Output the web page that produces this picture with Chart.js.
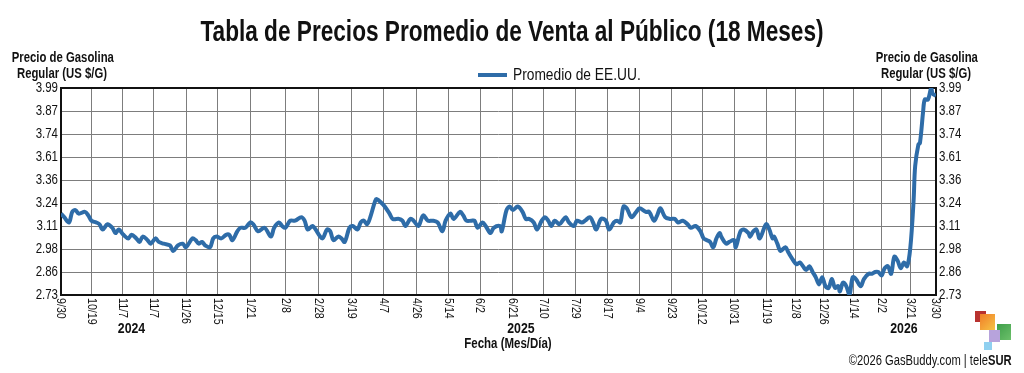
<!DOCTYPE html>
<html>
<head>
<meta charset="utf-8">
<script src="https://cdn.jsdelivr.net/npm/chart.js@4.4.1/dist/chart.umd.min.js"></script>
<style>
  html, body { margin: 0; padding: 0; background: #fff; }
  body { width: 1024px; height: 373px; position: relative; overflow: hidden;
         font-family: "Liberation Sans", Arial, sans-serif; color: #111; }
  #chart { position: absolute; left: 0; top: 0; }
  .abs { position: absolute; white-space: nowrap; }
  #title { left: 0; width: 1024px; top: 15px; text-align: center; font-weight: bold; font-size: 29px; line-height: 32px;
           transform: scaleX(0.78); }
  .axt { width: 124px; text-align: center; font-weight: bold; font-size: 14px; line-height: 16px; top: 49px; transform: scaleX(0.81); }
  #legend { left: 478px; top: 66px; font-size: 16px; line-height: 18px; display: flex; align-items: center; }
  #legend span.sw { display: inline-block; width: 29px; height: 4px; margin-right: 6px; }
  #legend span.tx { display: inline-block; transform: scaleX(0.86); transform-origin: left center; }
  #xtitle { left: 408px; width: 200px; top: 335px; text-align: center; font-weight: bold; font-size: 14px; line-height: 16px; transform: scaleX(0.82); }
  #footer { right: 12px; top: 352px; font-size: 14px; line-height: 16px; transform: scaleX(0.8); transform-origin: right center; }
  .sq { position: absolute; }
</style>
</head>
<body>
<canvas id="chart" width="1024" height="373"></canvas>
<div id="title" class="abs">Tabla de Precios Promedio de Venta al Público (18 Meses)</div>
<div class="abs axt" style="left:0">Precio de Gasolina<br>Regular (US $/G)</div>
<div class="abs axt" style="left:864px">Precio de Gasolina<br>Regular (US $/G)</div>
<div id="legend" class="abs"></div>
<div id="xtitle" class="abs">Fecha (Mes/Día)</div>
<div id="footer" class="abs">©2026 GasBuddy.com | tele<b>SUR</b></div>
<div class="sq" style="left:975px;top:311px;width:11px;height:11px;background:#b8322f"></div>
<div class="sq" style="left:980px;top:314px;width:15px;height:16px;background:linear-gradient(135deg,#f07d28,#f6c445)"></div>
<div class="sq" style="left:997px;top:324px;width:14px;height:16px;background:linear-gradient(135deg,#3f9e4a,#6cc06a)"></div>
<div class="sq" style="left:989px;top:330px;width:11px;height:12px;background:#b7a3dc"></div>
<div class="sq" style="left:984px;top:342px;width:8px;height:8px;background:#8fd0f0"></div>

<script>
const SERIES_NAME = "Promedio de EE.UU.";
const LINE_COLOR = "#2e6ca8";
const FONT = '"Liberation Sans", Arial, sans-serif';

// days since 9/30/2024
const DAYS = [
  0, 2, 5, 7, 9, 11, 15, 17, 19, 22, 24, 26, 29, 32, 34, 36, 39, 42, 44, 47,
  49, 51, 54, 56, 59, 61, 64, 68, 70, 73, 76, 78, 82, 84, 86, 88, 90, 93, 95, 97,
  100, 103, 105, 107, 110, 112, 115, 118, 120, 123, 127, 131, 133, 136, 138, 140, 143, 146, 150, 152,
  154, 157, 163, 166, 168, 170, 173, 175, 177, 180, 182, 185, 187, 189, 191, 193, 196, 197, 200, 202,
  205, 207, 211, 213, 215, 218, 220, 223, 226, 229, 232, 235, 238, 240, 243, 245, 249, 251, 253, 256,
  258, 260, 263, 265, 268, 270, 274, 275, 278, 280, 282, 285, 288, 290, 292, 295, 297, 300, 302, 304,
  306, 308, 311, 313, 315, 317, 320, 322, 325, 327, 330, 332, 334, 337, 340, 342, 345, 347, 349, 351,
  353, 356, 359, 361, 365, 367, 370, 372, 374, 377, 380, 383, 385, 388, 391, 393, 396, 399, 401, 403,
  405, 407, 409, 411, 412, 415, 417, 420, 421, 424, 426, 429, 430, 432, 434, 436, 440, 442, 444, 445,
  447, 449, 452, 454, 457, 459, 461, 463, 465, 467, 469, 471, 473, 475, 477, 479, 481, 483, 485, 486,
  488, 490, 492, 494, 496, 499, 501, 504, 506, 508, 510, 512, 514, 516, 518, 520, 522, 524, 526, 528,
  530, 532, 533, 535, 536, 538, 539, 541, 543, 544, 546
];
const PRICES = [
  3.18, 3.16, 3.13, 3.19, 3.20, 3.18, 3.19, 3.17, 3.14, 3.13, 3.12, 3.09, 3.12, 3.10, 3.07, 3.09, 3.06, 3.04, 3.06, 3.04,
  3.02, 3.05, 3.03, 3.01, 3.04, 3.02, 3.01, 3.00, 2.97, 3.00, 3.01, 2.99, 3.04, 3.03, 3.01, 3.02, 3.00, 2.99, 3.04, 3.05,
  3.04, 3.06, 3.06, 3.03, 3.08, 3.10, 3.10, 3.13, 3.12, 3.08, 3.10, 3.05, 3.10, 3.13, 3.11, 3.10, 3.14, 3.14, 3.16, 3.14,
  3.09, 3.11, 3.04, 3.09, 3.08, 3.03, 3.05, 3.04, 3.02, 3.10, 3.11, 3.09, 3.13, 3.14, 3.12, 3.16, 3.25, 3.26, 3.24, 3.22,
  3.18, 3.15, 3.15, 3.14, 3.11, 3.15, 3.14, 3.11, 3.17, 3.14, 3.14, 3.13, 3.08, 3.14, 3.18, 3.15, 3.19, 3.17, 3.14, 3.14,
  3.14, 3.10, 3.13, 3.11, 3.07, 3.10, 3.11, 3.08, 3.20, 3.22, 3.20, 3.22, 3.19, 3.15, 3.15, 3.13, 3.09, 3.14, 3.16, 3.14,
  3.11, 3.14, 3.12, 3.14, 3.16, 3.13, 3.11, 3.14, 3.13, 3.14, 3.16, 3.13, 3.09, 3.15, 3.14, 3.09, 3.13, 3.14, 3.13, 3.22,
  3.21, 3.16, 3.19, 3.21, 3.19, 3.19, 3.14, 3.17, 3.21, 3.16, 3.15, 3.15, 3.13, 3.14, 3.12, 3.10, 3.11, 3.08, 3.04, 3.03,
  3.02, 2.99, 3.04, 3.07, 3.05, 3.01, 3.02, 3.03, 2.99, 3.08, 3.09, 3.07, 3.05, 3.08, 3.09, 3.04, 3.12, 3.09, 3.04, 3.05,
  3.01, 2.97, 2.99, 2.96, 2.92, 2.90, 2.91, 2.89, 2.87, 2.89, 2.86, 2.83, 2.79, 2.83, 2.78, 2.77, 2.82, 2.77, 2.78, 2.75,
  2.80, 2.78, 2.73, 2.83, 2.82, 2.78, 2.82, 2.85, 2.85, 2.86, 2.86, 2.84, 2.88, 2.89, 2.85, 2.94, 2.92, 2.88, 2.91, 2.89,
  2.99, 3.25, 3.51, 3.68, 3.69, 3.87, 3.93, 3.93, 3.99, 3.96, 3.95
];

const Y_TICKS = [2.73, 2.86, 2.98, 3.11, 3.24, 3.36, 3.61, 3.74, 3.87, 3.99];
const X_TICK_DAYS = [0, 19, 38.5, 58, 78, 97.5, 118, 140, 160.5, 181.5, 201, 222, 242, 261.5, 282,
  301, 321, 341, 361, 381, 400, 420, 440, 458.5, 476, 494.5, 512, 530, 546];
const X_TICK_LABELS = ["9/30", "10/19", "11/7", "11/7", "11/26", "12/15", "1/21", "2/8", "2/28", "3/19",
  "4/7", "4/26", "5/14", "6/2", "6/21", "7/10", "7/29", "8/17", "9/4", "9/23", "10/12", "10/31",
  "11/19", "12/8", "12/26", "1/14", "2/2", "3/21", "3/30"];
const YEAR_LABELS = ["2024", "2025", "2026"];
const YEAR_DAYS = [44, 287, 526];

// y axis whose labelled lines are evenly spaced even though the values are not
class StepLabelScale extends Chart.LinearScale {
  buildTicks() {
    return Y_TICKS.map(v => ({ value: v }));
  }
  toDecimal(v) {
    const t = Y_TICKS, n = t.length - 1;
    let i = 1;
    while (i < n && v > t[i]) i++;
    return (i - 1 + (v - t[i - 1]) / (t[i] - t[i - 1])) / n;
  }
  getPixelForValue(v) {
    if (v === null || v === undefined) return NaN;
    return this.getPixelForDecimal(this.toDecimal(v));
  }
  getValueForPixel(p) {
    const t = Y_TICKS, n = t.length - 1;
    const d = this.getDecimalForPixel(p) * n;
    const i = Math.min(Math.max(Math.floor(d), 0), n - 1);
    return t[i] + (d - i) * (t[i + 1] - t[i]);
  }
}
StepLabelScale.id = "stepLabel";
StepLabelScale.defaults = Chart.LinearScale.defaults;
Chart.register(StepLabelScale);

// no narrow font installed, so squeeze the text horizontally
function narrow(ctx, text, x, y, align, rot) {
  ctx.save();
  ctx.translate(x, y);
  if (rot) ctx.rotate(rot);
  ctx.scale(0.82, 1);
  ctx.textAlign = align;
  ctx.fillText(text, 0, 0);
  ctx.restore();
}

const frame = {
  id: "frame",
  beforeDatasetsDraw(chart) {
    const a = chart.chartArea, ctx = chart.ctx;
    ctx.save();
    ctx.strokeStyle = "#111";
    ctx.lineWidth = 2;
    ctx.strokeRect(a.left, a.top, a.right - a.left, a.bottom - a.top);
    ctx.restore();
  },
  afterDraw(chart) {
    const x = chart.scales.x, y = chart.scales.y, ctx = chart.ctx, a = chart.chartArea;
    ctx.save();
    ctx.fillStyle = "#111";
    ctx.textBaseline = "middle";
    ctx.font = "14px " + FONT;
    Y_TICKS.forEach(v => {
      const py = y.getPixelForValue(v);
      narrow(ctx, v.toFixed(2), a.left - 3, py, "right");
      narrow(ctx, v.toFixed(2), a.right + 3, py, "left");
    });
    ctx.font = "13px " + FONT;
    X_TICK_DAYS.forEach((d, i) => {
      narrow(ctx, X_TICK_LABELS[i], x.getPixelForValue(d), a.bottom + 3, "left", Math.PI / 2);
    });
    ctx.font = "bold 15px " + FONT;
    YEAR_LABELS.forEach((t, i) => narrow(ctx, t, x.getPixelForValue(YEAR_DAYS[i]), 329, "center"));
    ctx.restore();
  }
};

const chart = new Chart(document.getElementById("chart"), {
  type: "line",
  data: {
    datasets: [{
      label: SERIES_NAME,
      data: DAYS.map((d, i) => ({ x: d, y: PRICES[i] })),
      borderColor: LINE_COLOR,
      borderWidth: 4,
      pointRadius: 0,
      tension: 0.35,
      fill: false,
      yAxisID: "y"
    }]
  },
  options: {
    responsive: false,
    animation: false,
    devicePixelRatio: 1,
    layout: { padding: { top: 88, left: 0, right: 0, bottom: 0 } },
    plugins: { legend: { display: false }, tooltip: { enabled: false } },
    scales: {
      x: {
        type: "linear",
        min: 0,
        max: 546,
        afterBuildTicks: s => { s.ticks = X_TICK_DAYS.map(v => ({ value: v })); },
        afterFit: s => { s.height = 78; },
        ticks: { display: false },
        grid: { color: "#7d7d7d", lineWidth: 1, drawTicks: false },
        border: { display: false }
      },
      y: {
        type: "stepLabel",
        axis: "y",
        position: "left",
        min: 2.73,
        max: 3.99,
        afterFit: s => { s.width = 61; },
        ticks: { display: false },
        grid: { color: "#7d7d7d", lineWidth: 1, drawTicks: false },
        border: { display: false }
      },
      y2: {
        type: "stepLabel",
        axis: "y",
        position: "right",
        min: 2.73,
        max: 3.99,
        afterFit: s => { s.width = 88; },
        ticks: { display: false },
        grid: { display: false, drawTicks: false },
        border: { display: false }
      }
    }
  },
  plugins: [frame]
});

// legend from the dataset
const ds = chart.data.datasets[0];
document.getElementById("legend").innerHTML =
  `<span class="sw" style="background:${ds.borderColor}"></span><span class="tx">${ds.label}</span>`;
</script>
</body>
</html>
